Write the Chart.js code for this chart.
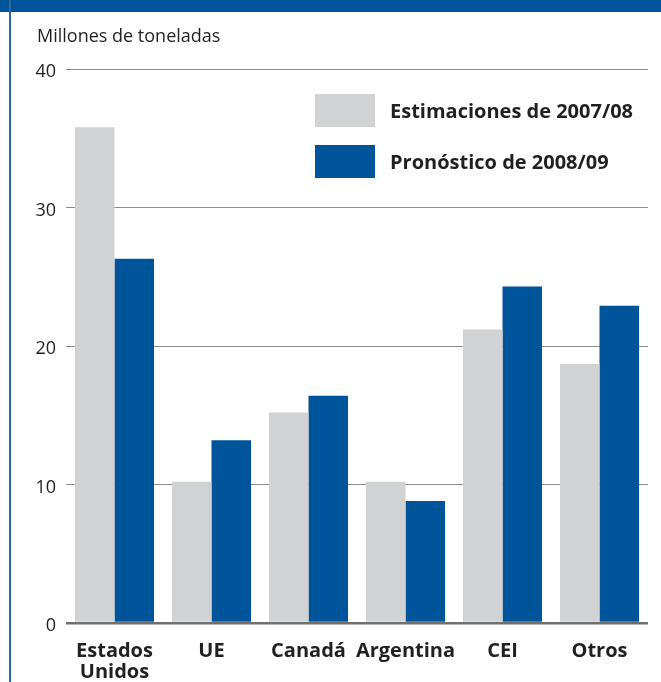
<!DOCTYPE html>
<html>
<head>
<meta charset="utf-8">
<script src="https://cdn.jsdelivr.net/npm/chart.js@4"></script>
<style>
  body { margin: 0; background: #fff; }
  #wrap { position: relative; width: 661px; height: 682px; overflow: hidden; }
  #topband { position: absolute; left: 0; top: 0; width: 661px; height: 12px; background: #00559a; }
  #leftline { position: absolute; left: 9px; top: 0; width: 2px; height: 682px; background: #2a6aa8; }
  #unit { position: absolute; left: 37px; top: 24px; font: 18px/22px "Open Sans", sans-serif; color: #231f20; }
  .key { position: absolute; left: 315px; width: 60px; height: 33px; }
  .keytext { position: absolute; left: 390px; font: bold 20px/33px "Open Sans", sans-serif; color: #231f20; white-space: nowrap; }
</style>
</head>
<body>
<div id="wrap">
  <canvas id="grainChart" width="661" height="682"></canvas>
  <div id="topband"></div>
  <div id="leftline"></div>
  <div id="unit">Millones de toneladas</div>
  <div id="legend"></div>
</div>
<script>
var categories = [['Estados', 'Unidos'], 'UE', 'Canadá', 'Argentina', 'CEI', 'Otros'];
var seriesNames = ['Estimaciones de 2007/08', 'Pronóstico de 2008/09'];
var estimates0708 = [35.8, 10.2, 15.2, 10.2, 21.2, 18.7];
var forecast0809 = [26.3, 13.2, 16.4, 8.8, 24.3, 22.9];
var yTicks = [0, 10, 20, 30, 40];

var colors = ['#d1d2d4', '#00559a'];

// legend built from the series names
var legend = document.getElementById('legend');
seriesNames.forEach(function(name, i) {
    var top = 94 + i * 51;
    var box = document.createElement('div');
    box.className = 'key';
    box.style.top = top + 'px';
    box.style.background = colors[i];
    legend.appendChild(box);
    var txt = document.createElement('div');
    txt.className = 'keytext';
    txt.style.top = top + 'px';
    txt.textContent = name;
    legend.appendChild(txt);
});

var ctx = document.getElementById('grainChart').getContext('2d');
new Chart(ctx, {
    type: 'bar',
    data: {
        labels: categories,
        datasets: [
            { label: seriesNames[0], data: estimates0708, backgroundColor: colors[0] },
            { label: seriesNames[1], data: forecast0809, backgroundColor: colors[1] }
        ]
    },
    options: {
        responsive: false,
        animation: false,
        categoryPercentage: 0.815,
        barPercentage: 1.0,
        layout: { padding: { top: 69, right: 13, left: 0, bottom: 0 } },
        plugins: {
            legend: { display: false },
            tooltip: { enabled: false }
        },
        scales: {
            x: {
                grid: { display: false },
                border: { display: false },
                ticks: {
                    color: '#231f20',
                    padding: 10,
                    maxRotation: 0,
                    autoSkip: false,
                    font: { family: 'Open Sans', size: 20, weight: 'bold', lineHeight: 1.05 }
                },
                afterFit: function(scale) { scale.height = 59; }
            },
            y: {
                min: 0,
                max: 40,
                afterBuildTicks: function(scale) {
                    scale.ticks = yTicks.map(function(v) { return { value: v }; });
                },
                border: { display: false },
                grid: {
                    drawTicks: false,
                    color: function(c) { return c.tick && c.tick.value === 0 ? '#6f6f6f' : '#8c8c8c'; },
                    lineWidth: function(c) { return c.tick && c.tick.value === 0 ? 2.5 : 1; }
                },
                ticks: {
                    color: '#231f20',
                    padding: 10,
                    labelOffset: 3,
                    font: { family: 'Open Sans', size: 18 }
                },
                afterFit: function(scale) { scale.width = 66; }
            }
        }
    }
});
</script>
</body>
</html>
